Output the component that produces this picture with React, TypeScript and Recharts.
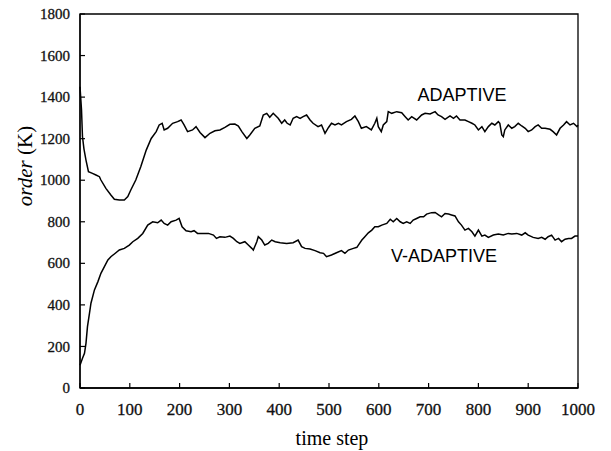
import React from 'react';
import { LineChart, Line, XAxis, YAxis, ReferenceArea, ReferenceDot } from 'recharts';

// ---- data ----
const adaptiveT = [0,3,5,8,12,17,25,32,39,42,52,62,69,79,89,96,102,112,122,133,143,153,159,165,169,176,186,196,203,209,216,226,233,241,251,261,271,281,291,301,311,318,325,335,341,351,361,368,375,381,388,398,405,411,416,422,428,435,442,448,455,462,468,478,485,492,499,505,512,519,525,535,545,552,559,565,575,585,592,596,599,605,609,616,619,626,636,646,653,659,666,676,686,693,703,713,719,726,733,743,750,756,763,773,780,787,793,800,807,813,820,827,833,840,843,847,850,853,860,867,873,880,887,894,900,907,914,920,927,934,944,950,957,964,971,977,984,991,998,1000];
const adaptiveV = [1450,1340,1209,1150,1097,1041,1033,1025,1017,1001,961,929,908,905,905,921,953,1001,1065,1145,1201,1234,1266,1274,1242,1250,1274,1282,1290,1266,1234,1242,1258,1230,1205,1226,1238,1242,1254,1269,1270,1261,1234,1201,1218,1250,1261,1314,1322,1303,1322,1298,1274,1290,1274,1266,1298,1306,1298,1306,1314,1290,1274,1258,1266,1226,1254,1274,1266,1274,1266,1282,1293,1309,1282,1250,1258,1242,1274,1298,1258,1234,1266,1282,1330,1322,1330,1325,1306,1290,1306,1290,1314,1322,1319,1330,1314,1306,1293,1310,1298,1309,1290,1290,1282,1274,1266,1242,1258,1234,1258,1274,1266,1282,1274,1218,1210,1242,1266,1250,1258,1274,1261,1250,1234,1242,1258,1266,1250,1250,1245,1234,1218,1250,1266,1282,1266,1274,1258,1265];

const vAdaptiveT = [0,5,9,12,15,19,22,29,36,42,49,56,62,69,79,89,99,106,116,126,136,146,156,163,169,176,183,193,199,205,213,223,229,236,246,258,268,274,281,291,301,308,315,321,331,338,345,348,355,358,365,371,378,385,392,402,415,428,438,445,452,462,472,482,489,495,505,515,525,532,539,549,556,559,566,572,579,586,592,599,606,616,623,629,636,643,649,656,663,669,676,683,690,696,706,713,720,726,733,740,746,753,760,766,773,780,787,793,800,807,813,820,830,840,850,860,867,877,887,894,900,910,920,927,934,940,947,954,961,967,974,981,987,994,1000];
const vAdaptiveV = [110,143,167,215,295,359,408,472,512,552,584,616,632,645,664,672,688,704,720,744,784,800,795,808,792,784,800,808,816,776,757,752,757,744,744,744,736,720,728,725,731,720,704,696,704,688,672,664,704,728,712,688,696,712,704,699,696,699,712,680,672,669,661,651,648,632,640,651,661,648,664,672,677,688,712,728,747,760,776,776,784,792,812,800,816,800,792,800,792,808,816,824,824,837,844,845,833,824,840,837,833,828,800,784,760,768,752,731,760,731,736,725,736,741,736,744,741,744,736,747,736,725,720,725,716,728,736,712,720,704,716,720,720,731,731];

const xTicks = [0, 100, 200, 300, 400, 500, 600, 700, 800, 900, 1000];
const yTicks = [0, 200, 400, 600, 800, 1000, 1200, 1400, 1600, 1800];

const seriesLabels = ['ADAPTIVE', 'V-ADAPTIVE'];
const xLabel = 'time step';
const yLabelItalic = 'order';
const yLabelRest = ' (K)';

const adaptiveData = adaptiveT.map((t, i) => ({ t, v: adaptiveV[i] }));
const vAdaptiveData = vAdaptiveT.map((t, i) => ({ t, v: vAdaptiveV[i] }));

// annotation anchors (data coordinates)
const labelAnchors = [
  { x: 767, y: 1410 },
  { x: 731, y: 638 },
];

const SERIF = "'Liberation Serif', 'DejaVu Serif', serif";
const SANS = "'Liberation Sans', Arial, sans-serif";

const YLabel = (props: any) => {
  const vb = props.viewBox || { x: 0, y: 14, width: 80, height: 374 };
  const cx = vb.x + 25;
  const cy = vb.y + vb.height / 2 - 35;
  return (
    <text
      x={cx}
      y={cy}
      transform={`rotate(-90, ${cx}, ${cy})`}
      textAnchor="middle"
      dominantBaseline="central"
      fontFamily={SERIF}
      fontSize={21}
      fill="#000"
    >
      <tspan fontStyle="italic">{yLabelItalic}</tspan>
      <tspan>{yLabelRest}</tspan>
    </text>
  );
};

const XLabel = (props: any) => {
  const vb = props.viewBox || { x: 80, y: 388, width: 498, height: 50 };
  const cx = vb.x + vb.width / 2 + 3;
  const cy = vb.y + 50;
  return (
    <text x={cx} y={cy} textAnchor="middle" dominantBaseline="central" fontFamily={SERIF} fontSize={20} fill="#000">
      {xLabel}
    </text>
  );
};

const renderXTick = (props: any) => {
  const { x, y, payload, index } = props;
  return (
    <text key={`xt-${index}`} x={x} y={y} dy="0.72em" textAnchor="middle" fontFamily={SERIF} fontSize={17} fill="#111" stroke="#111" strokeWidth={0.3}>
      {String(payload.value)}
    </text>
  );
};

const renderYTick = (props: any) => {
  const { x, y, payload, index } = props;
  return (
    <text key={`yt-${index}`} x={x} y={y} dy="0.34em" textAnchor="end" fontFamily={SERIF} fontSize={15} fill="#111" stroke="#111" strokeWidth={0.3}>
      {String(payload.value)}
    </text>
  );
};

const emptyTick = () => <g />;

export default function App() {
  return (
    <div style={{ position: 'absolute', left: 0, top: 0, width: 611, height: 451, background: '#fff' }}>
      <LineChart width={611} height={451} margin={{ top: 14, right: 33, bottom: 13, left: 0 }}>
        <XAxis
          dataKey="t"
          type="number"
          domain={[0, 1000]}
          ticks={xTicks}
          allowDuplicatedCategory={false}
          tickSize={-5}
          tickMargin={20}
          height={50}
          stroke="#000"
          tick={renderXTick}
          axisLine={{ stroke: '#000', strokeWidth: 1.3 }}
          tickLine={{ stroke: '#000', strokeWidth: 1.2 }}
          label={<XLabel />}
        />
        <YAxis
          yAxisId="left"
          type="number"
          domain={[0, 1800]}
          ticks={yTicks}
          width={80}
          tickSize={-5}
          tickMargin={15}
          stroke="#000"
          tick={renderYTick}
          axisLine={{ stroke: '#000', strokeWidth: 1.3 }}
          tickLine={{ stroke: '#000', strokeWidth: 1.2 }}
          label={<YLabel />}
        />
        <YAxis
          yAxisId="right"
          orientation="right"
          type="number"
          domain={[0, 1800]}
          ticks={yTicks}
          width={0}
          tickSize={-5}
          tick={emptyTick}
          axisLine={{ stroke: '#000', strokeWidth: 1.3 }}
          tickLine={{ stroke: '#000', strokeWidth: 1.2 }}
        />
        <ReferenceArea
          yAxisId="left"
          x1={0}
          x2={1000}
          y1={0}
          y2={1800}
          stroke="#000"
          strokeWidth={1.3}
          fill="none"
          fillOpacity={0}
        />
        <Line
          yAxisId="left"
          data={adaptiveData}
          dataKey="v"
          type="linear"
          stroke="#000"
          strokeWidth={1.5}
          dot={false}
          isAnimationActive={false}
        />
        <Line
          yAxisId="left"
          data={vAdaptiveData}
          dataKey="v"
          type="linear"
          stroke="#000"
          strokeWidth={1.5}
          dot={false}
          isAnimationActive={false}
        />
        {seriesLabels.map((name, i) => (
          <ReferenceDot
            key={name}
            yAxisId="left"
            x={labelAnchors[i].x}
            y={labelAnchors[i].y}
            r={0}
            fill="none"
            stroke="none"
            label={{ value: name, position: 'center', fontFamily: SANS, fontSize: 18, fill: '#000' }}
          />
        ))}
      </LineChart>
    </div>
  );
}
